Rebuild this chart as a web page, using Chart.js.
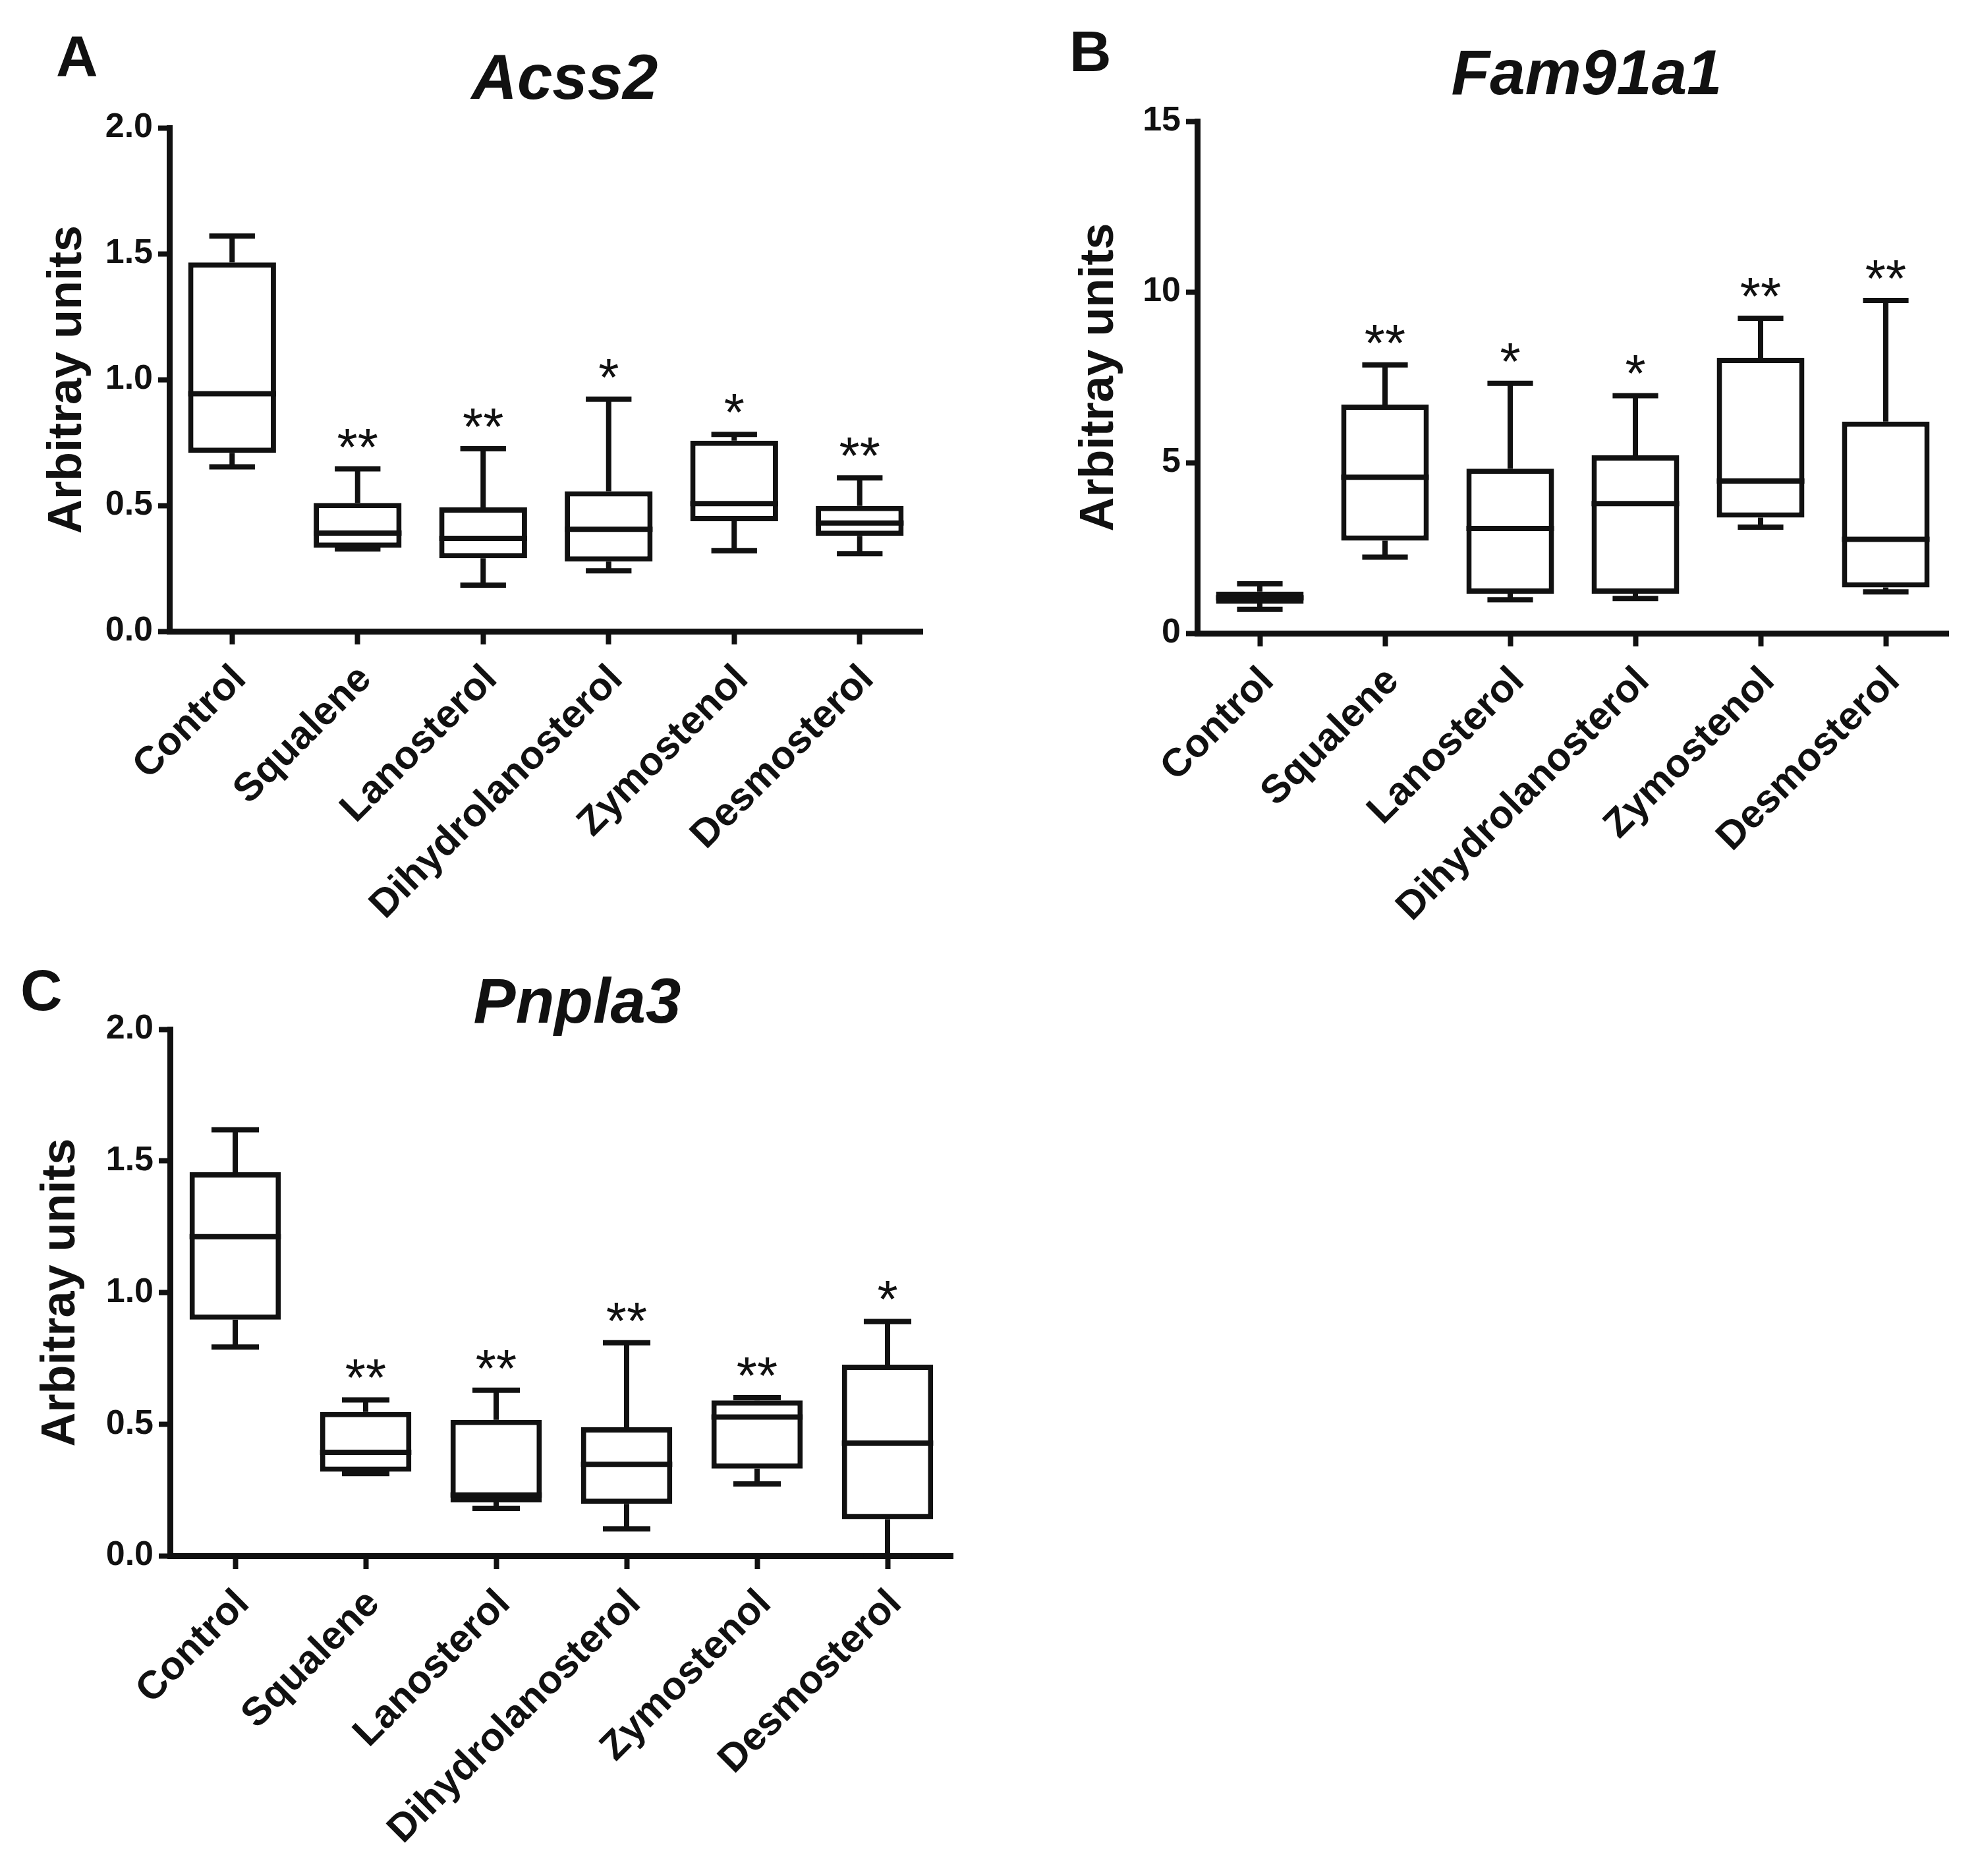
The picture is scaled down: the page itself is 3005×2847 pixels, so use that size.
<!DOCTYPE html>
<html>
<head>
<meta charset="utf-8">
<script src="https://cdn.jsdelivr.net/npm/chart.js@4.4.1/dist/chart.umd.min.js"></script>
<style>
  html, body { margin: 0; padding: 0; background: #fff; }
  body { width: 3005px; height: 2847px; position: relative; overflow: hidden; }
  canvas { position: absolute; }
</style>
</head>
<body>
<canvas id="acssChart" width="1500" height="1450" style="left:0px;top:0px"></canvas>
<canvas id="famChart" width="1505" height="1450" style="left:1500px;top:0px"></canvas>
<canvas id="pnplaChart" width="1500" height="1427" style="left:0px;top:1420px"></canvas>
<script>
const categories = ["Control", "Squalene", "Lanosterol", "Dihydrolanosterol", "Zymostenol", "Desmosterol"];

// A - Acss2
const acssMin = [0.653, 0.327, 0.183, 0.240, 0.320, 0.308];
const acssQ1 = [0.709, 0.332, 0.290, 0.277, 0.437, 0.379];
const acssMed = [0.944, 0.390, 0.369, 0.405, 0.507, 0.430];
const acssQ3 = [1.465, 0.510, 0.492, 0.556, 0.757, 0.498];
const acssMax = [1.570, 0.645, 0.725, 0.922, 0.782, 0.609];
const acssStars = ["", "**", "**", "*", "*", "**"];
const acssTicks = ["0.0", "0.5", "1.0", "1.5", "2.0"];

// B - Fam91a1
const famMin = [0.70, 2.23, 0.98, 1.02, 3.11, 1.21];
const famQ1 = [0.87, 2.71, 1.16, 1.16, 3.39, 1.34];
const famMed = [1.04, 4.57, 3.07, 3.80, 4.46, 2.75];
const famQ3 = [1.22, 6.70, 4.82, 5.21, 8.07, 6.20];
const famMax = [1.45, 7.86, 7.32, 6.96, 9.23, 9.75];
const famStars = ["", "**", "*", "*", "**", "**"];
const famTicks = ["0", "5", "10", "15"];

// C - Pnpla3
const pnplaMin = [0.793, 0.312, 0.180, 0.102, 0.273, 0.0];
const pnplaQ1 = [0.897, 0.319, 0.203, 0.197, 0.331, 0.139];
const pnplaMed = [1.212, 0.393, 0.231, 0.347, 0.527, 0.428];
const pnplaQ3 = [1.457, 0.546, 0.516, 0.488, 0.590, 0.726];
const pnplaMax = [1.618, 0.592, 0.629, 0.809, 0.601, 0.890];
const pnplaStars = ["", "**", "**", "**", "**", "*"];
const pnplaTicks = ["0.0", "0.5", "1.0", "1.5", "2.0"];

const ink = "#111";
const fontFamily = "'Liberation Sans', Arial, sans-serif";
Chart.defaults.font.family = fontFamily;
Chart.defaults.color = ink;

// whiskers, medians and significance stars on top of the floating-bar boxes
const boxExtras = {
  id: "boxExtras",
  afterDatasetsDraw(chart) {
    const ctx = chart.ctx;
    const y = chart.scales.y;
    const s = chart.data.datasets[0].stats;
    const bars = chart.getDatasetMeta(0).data;
    ctx.save();
    ctx.strokeStyle = ink;
    ctx.fillStyle = ink;
    ctx.lineCap = "butt";
    ctx.lineWidth = 8;
    bars.forEach((bar, i) => {
      const half = bar.width / 2;
      const cap = bar.width * 0.26;
      const yq1 = y.getPixelForValue(s.q1[i]);
      const yq3 = y.getPixelForValue(s.q3[i]);
      const ymin = y.getPixelForValue(s.min[i]);
      const ymax = y.getPixelForValue(s.max[i]);
      const ymed = y.getPixelForValue(s.med[i]);
      ctx.beginPath();
      ctx.moveTo(bar.x, yq3);
      ctx.lineTo(bar.x, ymax);
      ctx.moveTo(bar.x - cap, ymax);
      ctx.lineTo(bar.x + cap, ymax);
      ctx.moveTo(bar.x, yq1);
      ctx.lineTo(bar.x, ymin);
      ctx.moveTo(bar.x - cap, ymin);
      ctx.lineTo(bar.x + cap, ymin);
      ctx.moveTo(bar.x - half, ymed);
      ctx.lineTo(bar.x + half, ymed);
      ctx.stroke();
      if (s.stars[i]) {
        ctx.font = "80px " + fontFamily;
        ctx.textAlign = "center";
        ctx.textBaseline = "alphabetic";
        ctx.fillText(s.stars[i], bar.x, ymax - 6);
      }
    });
    ctx.restore();
  },
};

function panelText(letter, lx, ly, gene, gx, gy) {
  return {
    id: "panelText",
    afterDraw(chart) {
      const ctx = chart.ctx;
      ctx.save();
      ctx.fillStyle = ink;
      ctx.textBaseline = "alphabetic";
      ctx.textAlign = "left";
      ctx.font = "bold 88px " + fontFamily;
      ctx.fillText(letter, lx, ly);
      ctx.textAlign = "center";
      ctx.font = "italic bold 96px " + fontFamily;
      ctx.fillText(gene, gx, gy);
      ctx.restore();
    },
  };
}

function drawPanel(id, p) {
  return new Chart(document.getElementById(id).getContext("2d"), {
    type: "bar",
    data: {
      labels: categories,
      datasets: [
        {
          data: p.q1.map((v, i) => [v, p.q3[i]]),
          backgroundColor: "#fff",
          borderColor: ink,
          borderWidth: 8,
          borderSkipped: false,
          barPercentage: 0.7,
          categoryPercentage: 1,
          stats: p,
        },
      ],
    },
    options: {
      responsive: false,
      animation: false,
      devicePixelRatio: 1,
      layout: { padding: p.padding },
      plugins: {
        legend: { display: false },
        tooltip: { enabled: false },
      },
      scales: {
        x: {
          offset: true,
          grid: {
            offset: false,
            drawOnChartArea: false,
            tickLength: 20,
            tickWidth: 8,
            tickColor: ink,
          },
          border: { color: ink, width: 9 },
          ticks: {
            minRotation: 45,
            maxRotation: 45,
            autoSkip: false,
            padding: 18,
            labelOffset: 12,
            color: ink,
            font: { size: 60, weight: "bold" },
          },
          afterFit: (s) => {
            s.height = p.xHeight;
          },
        },
        y: {
          min: 0,
          max: p.yMax,
          grid: {
            drawOnChartArea: false,
            tickLength: 17,
            tickWidth: 8,
            tickColor: ink,
          },
          border: { color: ink, width: 9 },
          ticks: {
            stepSize: p.step,
            padding: 8,
            color: ink,
            font: { size: 52, weight: "bold" },
            callback: (v, i) => p.ticks[i],
          },
          title: {
            display: true,
            text: "Arbitray units",
            color: ink,
            font: { size: 72, weight: "bold" },
            padding: { top: p.titlePad, bottom: 0 },
          },
          afterFit: (s) => {
            s.width = p.yWidth;
          },
        },
      },
    },
    plugins: [boxExtras, panelText(p.letter, p.lx, p.ly, p.gene, p.gx, p.gy)],
  });
}

drawPanel("acssChart", {
  min: acssMin, q1: acssQ1, med: acssMed, q3: acssQ3, max: acssMax, stars: acssStars,
  ticks: acssTicks, yMax: 2, step: 0.5,
  padding: { left: 0, top: 194, right: 100, bottom: 12 },
  yWidth: 257, xHeight: 480, titlePad: 60,
  letter: "A", lx: 85, ly: 115, gene: "Acss2", gx: 857, gy: 150,
});

drawPanel("famChart", {
  min: famMin, q1: famQ1, med: famMed, q3: famQ3, max: famMax, stars: famStars,
  ticks: famTicks, yMax: 15, step: 5,
  padding: { left: 70, top: 184, right: 48, bottom: 12 },
  yWidth: 247, xHeight: 477, titlePad: 56,
  letter: "B", lx: 123, ly: 108, gene: "Fam91a1", gx: 908, gy: 143,
});

drawPanel("pnplaChart", {
  min: pnplaMin, q1: pnplaQ1, med: pnplaMed, q3: pnplaQ3, max: pnplaMax, stars: pnplaStars,
  ticks: pnplaTicks, yMax: 2, step: 0.5,
  padding: { left: 0, top: 142, right: 54, bottom: 12 },
  yWidth: 258, xHeight: 474, titlePad: 50,
  letter: "C", lx: 31, ly: 113, gene: "Pnpla3", gx: 876, gy: 132,
});
</script>
</body>
</html>
